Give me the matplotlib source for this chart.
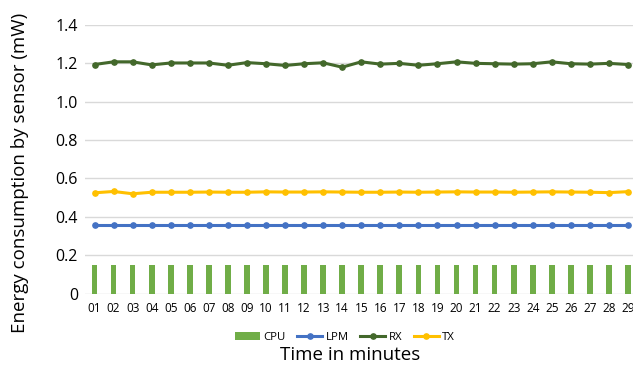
import numpy as np
import matplotlib.pyplot as plt

plt.rcParams['font.family'] = ['Open Sans', 'DejaVu Sans']

minutes = ['%02d' % i for i in range(1, 30)]
cpu = [0.15] * 29
lpm = [0.355] * 29
rx = [1.194, 1.208, 1.208, 1.192, 1.202, 1.202, 1.202, 1.19, 1.204, 1.198,
      1.189, 1.198, 1.203, 1.18, 1.208, 1.196, 1.20, 1.19, 1.198, 1.208,
      1.20, 1.198, 1.196, 1.198, 1.208, 1.198, 1.196, 1.20, 1.194]
tx = [0.525, 0.532, 0.52, 0.528, 0.528, 0.528, 0.529, 0.528, 0.528, 0.53,
      0.529, 0.529, 0.53, 0.529, 0.528, 0.528, 0.529, 0.528, 0.529, 0.53,
      0.529, 0.529, 0.528, 0.529, 0.53, 0.529, 0.528, 0.526, 0.531]

fig = plt.figure(figsize=(6.33, 3.69), dpi=100)
ax = fig.add_axes([85 / 633, 1 - 293.5 / 369, 552.5 / 633, 268.5 / 369])

x = np.arange(len(minutes))
b = ax.bar(x, cpu, width=0.3, color='#70ad47', label='CPU', zorder=2)
l1, = ax.plot(x, lpm, color='#4472c4', lw=2.2, marker='o', ms=3.8, label='LPM', zorder=3)
l2, = ax.plot(x, rx, color='#43682b', lw=2.2, marker='o', ms=3.8, label='RX', zorder=3)
l3, = ax.plot(x, tx, color='#ffc000', lw=2.2, marker='o', ms=3.8, label='TX', zorder=3)

ax.set_xlim(-0.5, len(minutes) - 0.5)
ax.set_ylim(0, 1.4)
ax.set_yticks(np.arange(0, 1.41, 0.2))
ax.set_yticklabels(['0', '0.2', '0.4', '0.6', '0.8', '1.0', '1.2', '1.4'], fontsize=11.5)
ax.set_xticks(x)
ax.set_xticklabels(minutes, fontsize=8.5)
ax.tick_params(length=0, pad=5)
ax.tick_params(axis='x', pad=6)
ax.yaxis.grid(True, color='#d9d9d9', lw=1, zorder=0)
ax.set_axisbelow(True)
for s in ax.spines.values():
    s.set_visible(False)

fig.text(20 / 633, 1 - 173 / 369, 'Energy consumption by sensor (mW)', rotation=90,
         ha='center', va='center', fontsize=13.5)
fig.text(350 / 633, 1 - 355 / 369, 'Time in minutes', ha='center', va='center', fontsize=13.5)
fig.legend([b, l1, l2, l3], ['CPU', 'LPM', 'RX', 'TX'], loc='center',
           bbox_to_anchor=(345 / 633, 1 - 337 / 369), ncol=4, frameon=False,
           fontsize=8.2, handlelength=2.2, columnspacing=1.0, handletextpad=0.3)

fig.savefig('out.png', dpi=100)
